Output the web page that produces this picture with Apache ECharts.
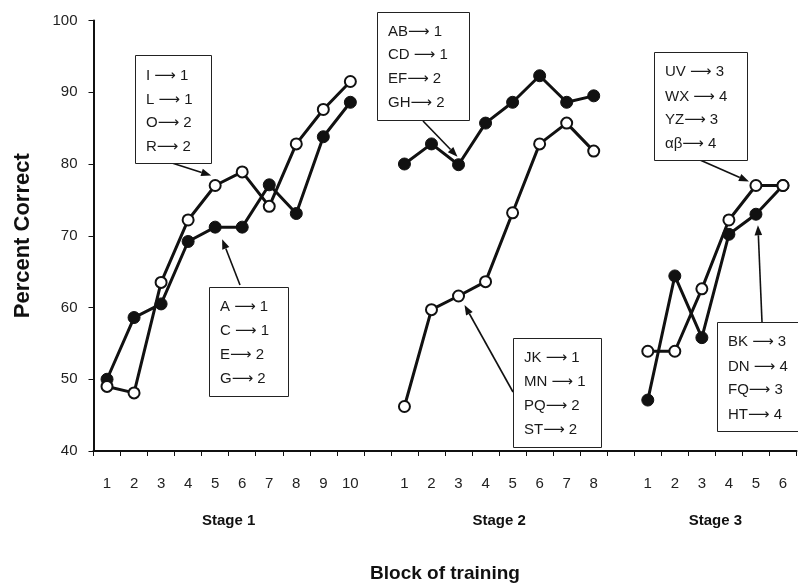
<!DOCTYPE html>
<html>
<head>
<meta charset="utf-8">
<script src="https://cdn.jsdelivr.net/npm/echarts@6/dist/echarts.min.js"></script>
<style>
  html, body { margin: 0; padding: 0; background: #fff; }
  #chart { width: 798px; height: 588px; }
</style>
</head>
<body>
<div id="chart"></div>
<script>
// Block labels for each training stage
const stage1Blocks = ['1', '2', '3', '4', '5', '6', '7', '8', '9', '10'];
const stage2Blocks = ['1', '2', '3', '4', '5', '6', '7', '8'];
const stage3Blocks = ['1', '2', '3', '4', '5', '6'];
const stageNames = ['Stage 1', 'Stage 2', 'Stage 3'];

// Percent correct per block (filled = first group, open = second group)
const stage1Filled = [50.0, 58.6, 60.5, 69.2, 71.2, 71.2, 77.1, 73.1, 83.8, 88.6];
const stage1Open   = [49.0, 48.1, 63.5, 72.2, 77.0, 78.9, 74.1, 82.8, 87.6, 91.5];
const stage2Filled = [80.0, 82.8, 79.9, 85.7, 88.6, 92.3, 88.6, 89.5];
const stage2Open   = [46.2, 59.7, 61.6, 63.6, 73.2, 82.8, 85.7, 81.8];
const stage3Filled = [47.1, 64.4, 55.8, 70.2, 73.0, 77.0];
const stage3Open   = [53.9, 53.9, 62.6, 72.2, 77.0, 77.0];

const yTicks = [40, 50, 60, 70, 80, 90, 100];

// One empty slot separates the stages on the shared category axis
const categories = [...stage1Blocks, '', ...stage2Blocks, '', ...stage3Blocks];
const gap = [null];
const filledData = [...stage1Filled, ...gap, ...stage2Filled, ...gap, ...stage3Filled];
const openData   = [...stage1Open, ...gap, ...stage2Open, ...gap, ...stage3Open];
const stageStart = [0, stage1Blocks.length + 1, stage1Blocks.length + stage2Blocks.length + 2];
const stageLen = [stage1Blocks.length, stage2Blocks.length, stage3Blocks.length];

// Callout boxes: mapping text, box rectangle, arrow tail and which point the arrow targets
const callouts = [
  { lines: ['I \u27F6 1', 'L \u27F6 1', 'O\u27F6 2', 'R\u27F6 2'],
    box: [135, 55, 76, 108], textX: 146, textY: [76, 100, 123, 147],
    tail: [172, 163], target: { open: true, stage: 0, block: 4 }, tipOffset: [-4, -10] },
  { lines: ['A \u27F6 1', 'C \u27F6 1', 'E\u27F6 2', 'G\u27F6 2'],
    box: [209, 287, 79, 109], textX: 220, textY: [307, 331, 355, 379],
    tail: [240, 285], target: { open: false, stage: 0, block: 4 }, tipOffset: [7, 12] },
  { lines: ['AB\u27F6 1', 'CD \u27F6 1', 'EF\u27F6 2', 'GH\u27F6 2'],
    box: [377, 12, 92, 108], textX: 388, textY: [32, 55, 79, 103],
    tail: [423, 121], target: { open: false, stage: 1, block: 2 }, tipOffset: [-1, -8] },
  { lines: ['JK \u27F6 1', 'MN \u27F6 1', 'PQ\u27F6 2', 'ST\u27F6 2'],
    box: [513, 338, 88, 109], textX: 524, textY: [358, 382, 406, 430],
    tail: [513, 392], target: { open: true, stage: 1, block: 2 }, tipOffset: [6, 9] },
  { lines: ['UV \u27F6 3', 'WX \u27F6 4', 'YZ\u27F6 3', '\u03B1\u03B2\u27F6 4'],
    box: [654, 52, 93, 108], textX: 665, textY: [72, 97, 120, 144],
    tail: [700, 160], target: { open: true, stage: 2, block: 4 }, tipOffset: [-7, -4] },
  { lines: ['BK \u27F6 3', 'DN \u27F6 4', 'FQ\u27F6 3', 'HT\u27F6 4'],
    box: [717, 322, 100, 109], textX: 728, textY: [342, 367, 390, 415],
    tail: [762, 322], target: { open: false, stage: 2, block: 4 }, tipOffset: [2, 11] }
];

const FONT = '"Liberation Sans", Arial, "DejaVu Sans", sans-serif';
const INK = '#111';

const chart = echarts.init(document.getElementById('chart'), null, { renderer: 'canvas' });

chart.setOption({
  animation: false,
  backgroundColor: '#fff',
  grid: { left: 93.5, right: 1.5, top: 20.5, bottom: 130, containLabel: false },
  xAxis: {
    type: 'category',
    data: categories,
    boundaryGap: true,
    name: 'Block of training',
    nameLocation: 'middle',
    nameGap: 113,
    nameTextStyle: { fontFamily: FONT, fontSize: 19, fontWeight: 'bold', color: INK },
    axisLine: { lineStyle: { color: INK, width: 2 } },
    axisTick: { show: true, length: 5, interval: 0, lineStyle: { color: INK, width: 1 } },
    axisLabel: { interval: 0, margin: 25, fontFamily: FONT, fontSize: 15, color: '#222' },
    splitLine: { show: false }
  },
  yAxis: {
    type: 'value',
    min: yTicks[0],
    max: yTicks[yTicks.length - 1],
    interval: 10,
    name: 'Percent Correct',
    nameLocation: 'middle',
    nameGap: 60,
    nameRotate: 90,
    nameTextStyle: { fontFamily: FONT, fontSize: 22, fontWeight: 'bold', color: INK },
    axisLine: { show: true, lineStyle: { color: INK, width: 2 } },
    axisTick: { show: true, length: 5, lineStyle: { color: INK, width: 1 } },
    axisLabel: { margin: 16, fontFamily: FONT, fontSize: 15, color: '#222' },
    splitLine: { show: false }
  },
  series: [
    {
      name: 'filled',
      type: 'line',
      data: filledData,
      connectNulls: false,
      symbol: 'circle',
      symbolSize: 12,
      lineStyle: { color: INK, width: 3 },
      itemStyle: { color: INK, borderColor: INK, borderWidth: 1 },
      z: 2
    },
    {
      name: 'open',
      type: 'line',
      data: openData,
      connectNulls: false,
      symbol: 'circle',
      symbolSize: 11,
      lineStyle: { color: INK, width: 3 },
      itemStyle: { color: '#fff', borderColor: INK, borderWidth: 2 },
      z: 3
    }
  ]
});

// Stage captions under the tick labels, plus callout boxes with arrows
function drawOverlay() {
  const elements = [];

  stageNames.forEach((name, i) => {
    const first = chart.convertToPixel({ xAxisIndex: 0, yAxisIndex: 0 }, [stageStart[i], 40]);
    const last = chart.convertToPixel({ xAxisIndex: 0, yAxisIndex: 0 }, [stageStart[i] + stageLen[i] - 1, 40]);
    elements.push({
      type: 'text',
      x: (first[0] + last[0]) / 2,
      y: 521,
      style: {
        text: name, fontFamily: FONT, fontSize: 15, fontWeight: 'bold', fill: INK,
        align: 'center', verticalAlign: 'middle'
      },
      z: 10
    });
  });

  const stageValues = [[stage1Filled, stage1Open], [stage2Filled, stage2Open], [stage3Filled, stage3Open]];

  callouts.forEach(c => {
    const [bx, by, bw, bh] = c.box;
    elements.push({
      type: 'rect',
      shape: { x: bx + 0.5, y: by + 0.5, width: bw, height: bh },
      style: { fill: '#fff', stroke: '#222', lineWidth: 1 },
      z: 20
    });
    c.lines.forEach((t, k) => {
      elements.push({
        type: 'text',
        x: c.textX,
        y: c.textY[k],
        style: { text: t, fontFamily: FONT, fontSize: 15, fill: '#1a1a1a', align: 'left', verticalAlign: 'middle' },
        z: 21
      });
    });

    const tg = c.target;
    const value = stageValues[tg.stage][tg.open ? 1 : 0][tg.block];
    const p = chart.convertToPixel({ xAxisIndex: 0, yAxisIndex: 0 }, [stageStart[tg.stage] + tg.block, value]);
    const tip = [p[0] + c.tipOffset[0], p[1] + c.tipOffset[1]];
    const dx = tip[0] - c.tail[0], dy = tip[1] - c.tail[1];
    const len = Math.hypot(dx, dy);
    const ux = dx / len, uy = dy / len;
    const headLen = 10, headHalf = 3.8;
    const base = [tip[0] - ux * headLen, tip[1] - uy * headLen];
    elements.push({
      type: 'line',
      shape: { x1: c.tail[0], y1: c.tail[1], x2: base[0], y2: base[1] },
      style: { stroke: INK, lineWidth: 1.6 },
      z: 19
    });
    elements.push({
      type: 'polygon',
      shape: {
        points: [
          tip,
          [base[0] - uy * headHalf, base[1] + ux * headHalf],
          [base[0] + uy * headHalf, base[1] - ux * headHalf]
        ]
      },
      style: { fill: INK },
      z: 19
    });
  });

  chart.setOption({ graphic: { elements } });
}

drawOverlay();
</script>
</body>
</html>
